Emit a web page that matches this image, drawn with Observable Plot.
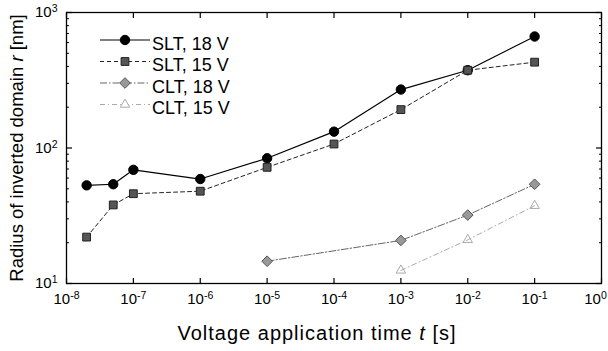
<!DOCTYPE html>
<html>
<head>
<meta charset="utf-8">
<script src="https://cdn.jsdelivr.net/npm/d3@7"></script>
<script src="https://cdn.jsdelivr.net/npm/@observablehq/plot@0.6"></script>
<style>
  body { margin: 0; background: #fff; }
  #wrap { position: relative; width: 608px; height: 351px; font-family: "Liberation Sans", Arial, sans-serif; }
  #legend { position: absolute; left: 0; top: 0; }
</style>
</head>
<body>
<div id="wrap"></div>
<script>
// ---- data ----
const xTicks = [1e-8, 1e-7, 1e-6, 1e-5, 1e-4, 1e-3, 1e-2, 1e-1, 1];
const yMajor = [10, 100, 1000];
const yMinor = [20, 30, 40, 50, 60, 70, 80, 90, 200, 300, 400, 500, 600, 700, 800, 900];

const slt18T = [2e-8, 5e-8, 1e-7, 1e-6, 1e-5, 1e-4, 1e-3, 1e-2, 1e-1];
const slt18R = [53, 54, 69, 59, 84, 132, 270, 375, 665];
const slt15T = [2e-8, 5e-8, 1e-7, 1e-6, 1e-5, 1e-4, 1e-3, 1e-2, 1e-1];
const slt15R = [22, 38, 46, 48, 72, 107, 192, 375, 430];
const clt18T = [1e-5, 1e-3, 1e-2, 1e-1];
const clt18R = [14.6, 20.8, 32, 54];
const clt15T = [1e-3, 1e-2, 1e-1];
const clt15R = [12.5, 21, 37.5];

const seriesNames = ["SLT, 18 V", "SLT, 15 V", "CLT, 18 V", "CLT, 15 V"];

const styles = [
  {stroke: "#000", dash: null, symbol: "circle", fill: "#000", mstroke: "#000", r: 4.7, width: 1.2},
  {stroke: "#222", dash: "4,3", symbol: "square", fill: "#555", mstroke: "#222", r: 4.4, width: 1},
  {stroke: "#666", dash: "7,2,1.5,2", symbol: "diamond2", fill: "#999", mstroke: "#555", r: 4.8, width: 1},
  {stroke: "#aaa", dash: "5,3,1,3", symbol: "triangle", fill: "none", mstroke: "#aaa", r: 3.5, width: 1}
];

const toRows = (T, R, s) => T.map((t, i) => ({t, r: R[i], s}));
const rows = [
  toRows(slt18T, slt18R, 0),
  toRows(slt15T, slt15R, 1),
  toRows(clt18T, clt18R, 2),
  toRows(clt15T, clt15R, 3)
];

const fmt = d => "10^" + Math.round(Math.log10(d));
const font = "Liberation Sans, Arial, sans-serif";

const marks = [];
rows.forEach((data, i) => {
  const st = styles[i];
  marks.push(Plot.line(data, {x: "t", y: "r", stroke: st.stroke, strokeWidth: st.width, strokeDasharray: st.dash}));
});
rows.forEach((data, i) => {
  const st = styles[i];
  marks.push(Plot.dot(data, {x: "t", y: "r", symbol: st.symbol, r: st.r, fill: st.fill, stroke: st.mstroke, strokeWidth: 1}));
});

const plot = Plot.plot({
  width: 608,
  height: 351,
  marginLeft: 66,
  marginRight: 7,
  marginTop: 12,
  marginBottom: 68,
  style: {fontFamily: font, background: "#fff", overflow: "visible"},
  x: {type: "log", domain: [1e-8, 1]},
  y: {type: "log", domain: [10, 1000]},
  marks: [
    Plot.axisX(xTicks, {anchor: "bottom", tickSize: -5, tickFormat: () => "", label: null, strokeWidth: 1.2}),
    Plot.axisX(xTicks, {anchor: "top", tickSize: -5, tickFormat: () => "", label: null, strokeWidth: 1.2}),
    Plot.axisX(xTicks, {anchor: "bottom", tickSize: 0, tickPadding: 10, tickFormat: fmt, label: null, fontSize: 15, fill: "#000"}),
    Plot.axisY(yMajor, {anchor: "left", tickSize: -6, tickFormat: () => "", label: null, strokeWidth: 1.2}),
    Plot.axisY(yMinor, {anchor: "left", tickSize: -3, tickFormat: () => "", label: null}),
    Plot.axisY(yMajor, {anchor: "right", tickSize: -6, tickFormat: () => "", label: null, strokeWidth: 1.2}),
    Plot.axisY(yMinor, {anchor: "right", tickSize: -3, tickFormat: () => "", label: null}),
    Plot.axisY(yMajor, {anchor: "left", tickSize: 0, tickPadding: 9, tickFormat: fmt, label: null, fontSize: 15, fill: "#000"}),
    ...marks,
    Plot.frame({stroke: "#000", strokeWidth: 1.3})
  ]
});

// superscript exponents on tick labels
plot.querySelectorAll('[aria-label$="tick label"] text').forEach(t => {
  const s = t.textContent;
  if (!s.startsWith("10^")) return;
  const exp = s.slice(3);
  t.textContent = "10";
  const ts = document.createElementNS("http://www.w3.org/2000/svg", "tspan");
  ts.setAttribute("dy", "-0.5em");
  ts.setAttribute("font-size", "0.7em");
  ts.textContent = exp;
  t.appendChild(ts);
  if (exp === "0") t.setAttribute("dx", "-6");
});

// axis titles
const svg = d3.select(plot);
const xt = svg.append("text")
  .attr("x", 317).attr("y", 340)
  .attr("text-anchor", "middle")
  .attr("font-family", font).attr("font-size", 20).attr("letter-spacing", "1px").attr("fill", "#000");
xt.append("tspan").text("Voltage application time ");
xt.append("tspan").attr("font-style", "italic").text("t");
xt.append("tspan").text(" [s]");

const yt = svg.append("text")
  .attr("transform", "translate(23,148) rotate(-90)")
  .attr("text-anchor", "middle")
  .attr("font-family", font).attr("font-size", 18.5).attr("fill", "#000");
yt.append("tspan").text("Radius of inverted domain ");
yt.append("tspan").attr("font-style", "italic").text("r");
yt.append("tspan").text(" [nm]");

const wrap = document.getElementById("wrap");
wrap.appendChild(plot);

// legend
const leg = d3.select(wrap).append("svg")
  .attr("id", "legend").attr("width", 608).attr("height", 351);
const sym = {circle: d3.symbolCircle, square: d3.symbolSquare, diamond2: d3.symbolDiamond2, triangle: d3.symbolTriangle};
seriesNames.forEach((name, i) => {
  const st = styles[i];
  const y = 40 + i * 21.5;
  const g = leg.append("g");
  g.append("line").attr("x1", 100).attr("x2", 150).attr("y1", y).attr("y2", y)
    .attr("stroke", st.stroke).attr("stroke-width", st.width)
    .attr("stroke-dasharray", st.dash);
  g.append("path")
    .attr("d", d3.symbol(sym[st.symbol], Math.PI * st.r * st.r)())
    .attr("transform", `translate(125,${y})`)
    .attr("fill", st.fill === "none" ? "#fff" : st.fill).attr("stroke", st.mstroke);
  g.append("text").attr("x", 152).attr("y", y + 3.5).attr("dy", "0.35em")
    .attr("font-family", font).attr("font-size", 18).attr("fill", "#000")
    .text(name);
});
</script>
</body>
</html>
